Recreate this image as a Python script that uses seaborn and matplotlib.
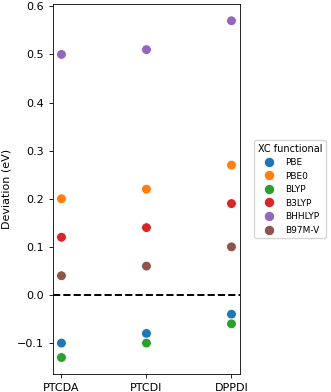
import matplotlib
matplotlib.use("Agg")
import matplotlib.pyplot as plt
import seaborn as sns
import pandas as pd

molecules = ["PTCDA", "PTCDI", "DPPDI"]
functionals = ["PBE", "PBE0", "BLYP", "B3LYP", "BHHLYP", "B97M-V"]
deviation = {
    "PBE": [-0.10, -0.08, -0.04],
    "PBE0": [0.20, 0.22, 0.27],
    "BLYP": [-0.13, -0.10, -0.06],
    "B3LYP": [0.12, 0.14, 0.19],
    "BHHLYP": [0.50, 0.51, 0.57],
    "B97M-V": [0.04, 0.06, 0.10],
}

rows = []
for f in functionals:
    for m, v in zip(molecules, deviation[f]):
        rows.append({"Molecule": m, "XC functional": f, "Deviation (eV)": v})
df = pd.DataFrame(rows)

plt.rcParams["font.size"] = 8
plt.rcParams["xtick.major.size"] = 2.8
plt.rcParams["ytick.major.size"] = 2.8
plt.rcParams["axes.linewidth"] = 0.6

fig, ax = plt.subplots(figsize=(3.31, 3.92), dpi=100)
sns.scatterplot(data=df, x="Molecule", y="Deviation (eV)", hue="XC functional",
                hue_order=functionals, s=50, linewidth=0.6, ax=ax)
ax.axhline(0, color="black", linestyle="--", linewidth=1.4)
ax.set_xlabel("")
ax.tick_params(labelsize=8, width=0.6)
ax.set_ylabel("Deviation (eV)", fontsize=8)
ax.legend(title="XC functional", loc="center left", bbox_to_anchor=(1.06, 0.5),
          fontsize=6.5, title_fontsize=7, markerscale=1.05, borderaxespad=0.3)
fig.subplots_adjust(left=0.16, right=0.725, top=0.99, bottom=0.045)
fig.savefig("out.png", dpi=100)
